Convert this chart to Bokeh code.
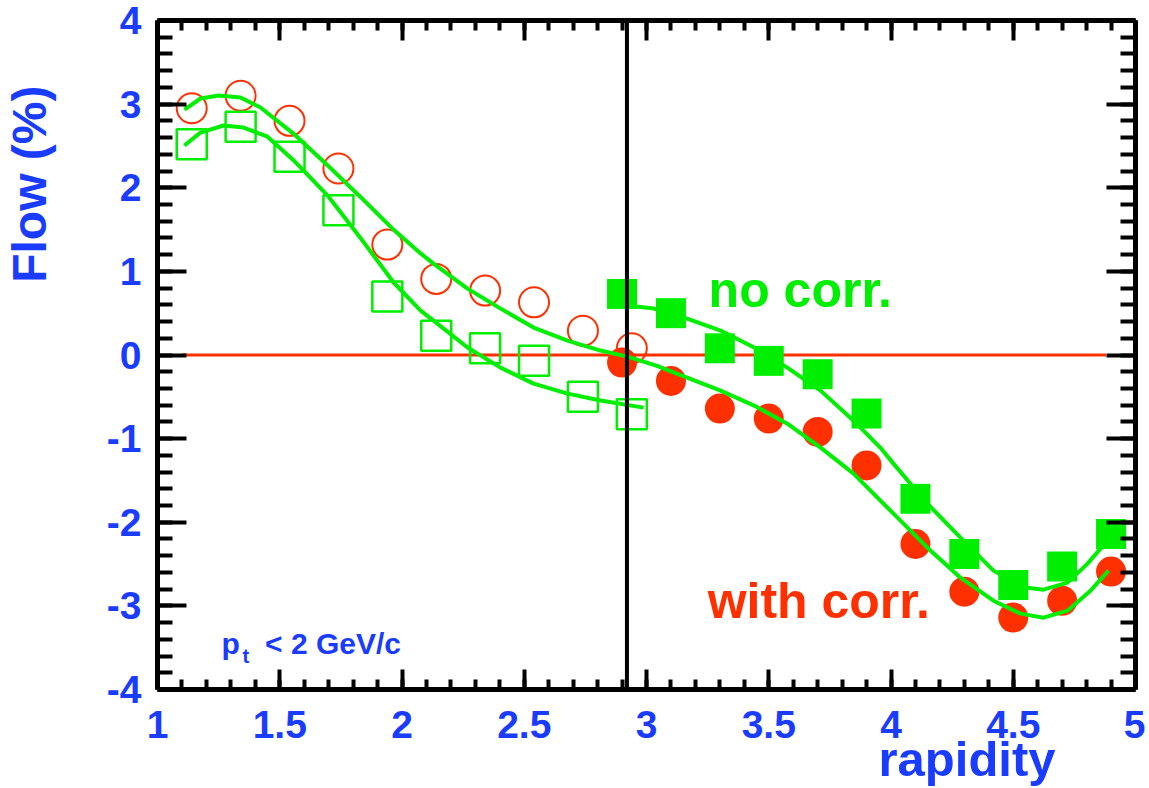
import math
from bokeh.plotting import figure
from bokeh.models import FixedTicker, LinearAxis, Label, Range1d, Title
from bokeh.embed import file_html
from bokeh.resources import INLINE

# ---------------- data ----------------
# measured points (forward hemisphere, filled)
x_fwd = [2.90, 3.10, 3.30, 3.50, 3.70, 3.90, 4.10, 4.30, 4.50, 4.70, 4.90]
nocorr_fwd = [0.73, 0.50, 0.08, -0.07, -0.23, -0.70, -1.72, -2.38, -2.75, -2.53, -2.14]
corr_fwd = [-0.09, -0.31, -0.64, -0.76, -0.92, -1.32, -2.26, -2.83, -3.14, -2.94, -2.59]

# reflected points (backward hemisphere, open)
x_bwd = [1.14, 1.34, 1.54, 1.74, 1.94, 2.14, 2.34, 2.54, 2.74, 2.94]
corr_bwd = [2.95, 3.10, 2.80, 2.23, 1.32, 0.91, 0.77, 0.63, 0.29, 0.08]
nocorr_bwd = [2.52, 2.73, 2.37, 1.73, 0.70, 0.23, 0.08, -0.07, -0.50, -0.71]

# fitted curves
fitA_x = [1.11, 1.176, 1.25, 1.339, 1.421, 1.556, 1.695, 1.83, 1.965, 2.076, 2.129,
          2.268, 2.403, 2.538, 2.677, 2.812, 2.922, 3.04, 3.166, 3.303, 3.44, 3.576,
          3.712, 3.847, 3.875, 4.01, 4.149, 4.284, 4.419, 4.53, 4.624, 4.722, 4.816, 4.89]
fitA_y = [2.935, 3.067, 3.103, 3.079, 2.96, 2.648, 2.27, 1.89, 1.50, 1.215, 1.093,
          0.794, 0.555, 0.328, 0.172, 0.053, -0.019, -0.127, -0.27, -0.426, -0.605, -0.821,
          -1.108, -1.419, -1.502, -1.897, -2.304, -2.663, -2.938, -3.093, -3.141, -3.057, -2.818, -2.579]

fitB_x = [1.11, 1.176, 1.27, 1.352, 1.45, 1.556, 1.695, 1.83, 1.965, 2.076, 2.129,
          2.268, 2.403, 2.538, 2.677, 2.812, 2.988]
fitB_y = [2.505, 2.66, 2.744, 2.72, 2.61, 2.33, 1.91, 1.40, 0.87, 0.53, 0.411,
          0.089, -0.151, -0.342, -0.462, -0.545, -0.629]

fitC_x = [2.922, 3.03, 3.166, 3.303, 3.44, 3.576, 3.712, 3.847, 3.957, 4.01, 4.149,
          4.284, 4.419, 4.558, 4.624, 4.722, 4.804, 4.857, 4.89]
fitC_y = [0.591, 0.555, 0.435, 0.292, 0.089, -0.151, -0.426, -0.785, -1.11, -1.299, -1.778,
          -2.184, -2.579, -2.782, -2.806, -2.722, -2.495, -2.316, -2.21]

y_cm = 2.92
zero_line_x = [1.10, 4.88]
zero_line_y = [0.0, 0.0]

x_ticks = [1, 1.5, 2, 2.5, 3, 3.5, 4, 4.5, 5]
x_tick_labels = ["1", "1.5", "2", "2.5", "3", "3.5", "4", "4.5", "5"]
x_minor = [round(1 + 0.1 * i, 2) for i in range(41)]
y_ticks = [-4, -3, -2, -1, 0, 1, 2, 3, 4]
y_tick_labels = ["-4", "-3", "-2", "-1", "0", "1", "2", "3", "4"]
y_minor = [round(-4 + 0.2 * i, 2) for i in range(41)]

# ---------------- style ----------------
RED = "#ff3000"
GREEN = "#00ee00"
BLUE = "#1a3cff"
FONT = "Liberation Sans"

p = figure(width=1145, height=788, x_range=Range1d(1, 5), y_range=Range1d(-4, 4),
           output_backend="svg", toolbar_location=None,
           x_axis_location=None, y_axis_location=None,
           min_border_left=157, min_border_right=10, min_border_top=20, min_border_bottom=99)
p.xgrid.visible = False
p.ygrid.visible = False
p.outline_line_color = None
p.background_fill_color = "white"

bottom_axis = LinearAxis()
left_axis = LinearAxis()
top_axis = LinearAxis()
right_axis = LinearAxis()
p.add_layout(bottom_axis, "below")
p.add_layout(left_axis, "left")
p.add_layout(top_axis, "above")
p.add_layout(right_axis, "right")


def style_axis(ax, ticks, minor, labels, major_in, minor_in, show_labels, standoff):
    ax.ticker = FixedTicker(ticks=ticks, minor_ticks=minor)
    ax.axis_line_width = 5
    ax.axis_line_color = "black"
    ax.major_tick_in = major_in
    ax.major_tick_out = 0
    ax.minor_tick_in = minor_in
    ax.minor_tick_out = 0
    ax.major_tick_line_width = 4
    ax.minor_tick_line_width = 4
    ax.major_tick_line_color = "black"
    ax.minor_tick_line_color = "black"
    if show_labels:
        ax.major_label_overrides = dict(zip(ticks, labels))
        ax.major_label_text_font = FONT
        ax.major_label_text_font_style = "bold"
        ax.major_label_text_font_size = "39px"
        ax.major_label_text_color = BLUE
        ax.major_label_standoff = standoff
    else:
        ax.major_label_overrides = {t: "" for t in ticks}
        ax.major_label_standoff = 0


style_axis(bottom_axis, x_ticks, x_minor, x_tick_labels, 20, 10, True, 21)
style_axis(top_axis, x_ticks, x_minor, x_tick_labels, 20, 10, False, 0)
style_axis(left_axis, y_ticks, y_minor, y_tick_labels, 29, 15, True, 16)
style_axis(right_axis, y_ticks, y_minor, y_tick_labels, 29, 15, False, 0)

# invisible spacer between the left tick labels and the y title
spacer = LinearAxis(ticker=FixedTicker(ticks=y_ticks, minor_ticks=[]))
spacer.axis_line_color = None
spacer.major_tick_line_color = None
spacer.minor_tick_line_color = None
spacer.major_tick_in = 0
spacer.major_tick_out = 48
spacer.minor_tick_out = 0
spacer.major_label_overrides = {t: "" for t in y_ticks}
spacer.major_label_standoff = 0
p.add_layout(spacer, "left")

p.add_layout(Title(text="rapidity", align="right", offset=80, vertical_align="top", standoff=-17,
                   text_font=FONT, text_font_style="bold", text_font_size="49px",
                   text_color=BLUE), "below")
p.add_layout(Title(text="Flow (%)", align="right", offset=65, vertical_align="bottom", standoff=0,
                   text_font=FONT, text_font_style="bold", text_font_size="48px",
                   text_color=BLUE), "left")

# zero line
p.line(zero_line_x, zero_line_y, line_color=RED, line_width=3)

# markers
p.scatter(x_bwd, corr_bwd, marker="circle", size=30, fill_color=None,
          line_color=RED, line_width=2)
p.scatter(x_bwd, nocorr_bwd, marker="square", size=30, fill_color=None,
          line_color=GREEN, line_width=2.5)
p.scatter(x_fwd, corr_fwd, marker="circle", size=30, fill_color=RED, line_color=None)
p.scatter(x_fwd, nocorr_fwd, marker="square", size=30, fill_color=GREEN, line_color=None)

# fits
for fx, fy in ((fitA_x, fitA_y), (fitB_x, fitB_y), (fitC_x, fitC_y)):
    p.line(fx, fy, line_color=GREEN, line_width=4)

# midrapidity line
p.line([y_cm, y_cm], [-4, 4], line_color="black", line_width=4)

# texts inside the frame
p.add_layout(Label(x=3.254, y=0.782, text="no corr.", text_font=FONT, text_font_style="bold",
                   text_font_size="50px", text_color=GREEN, text_baseline="alphabetic"))
p.add_layout(Label(x=3.25, y=-2.938, text="with corr.", text_font=FONT, text_font_style="bold",
                   text_font_size="50px", text_color=RED, text_baseline="alphabetic"))
p.add_layout(Label(x=1.262, y=-3.452, text="p", text_font=FONT, text_font_style="bold",
                   text_font_size="30px", text_color=BLUE, text_baseline="alphabetic"))
p.add_layout(Label(x=1.348, y=-3.60, text="t", text_font=FONT, text_font_style="bold",
                   text_font_size="20px", text_color=BLUE, text_baseline="alphabetic"))
p.add_layout(Label(x=1.44, y=-3.452, text="< 2 GeV/c", text_font=FONT, text_font_style="bold",
                   text_font_size="30px", text_color=BLUE, text_baseline="alphabetic"))

open("out.html", "w").write(file_html(p, INLINE))
